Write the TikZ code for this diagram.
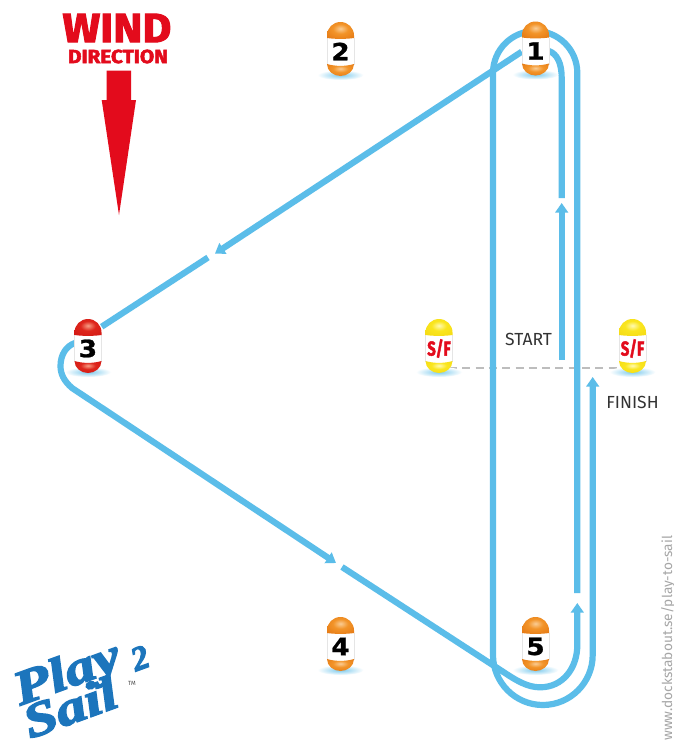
\documentclass[tikz,border=0pt]{standalone}
\usepackage{fontspec}
\usepackage{graphicx}
\usetikzlibrary{arrows.meta,backgrounds}
\setmainfont{Fira Sans}
\newfontfamily\heavy[BoldFeatures={FakeBold=2.4}]{Fira Sans}
\newfontfamily\numfont[BoldFeatures={FakeBold=1}]{DejaVu Sans}
\newfontfamily\logofont[BoldItalicFeatures={FakeBold=3}]{Liberation Serif}
\newcommand{\fs}[1]{\fontsize{#1}{#1}\selectfont}
\definecolor{course}{HTML}{5BBDE9}
\definecolor{windred}{HTML}{E30B1C}
\definecolor{logoblue}{HTML}{1C75BC}
\pgfdeclareradialshading{orangecap}{\pgfpoint{0bp}{6bp}}{rgb(0bp)=(.98,.80,.58); rgb(14bp)=(.95,.58,.16); rgb(34bp)=(.90,.48,.08); rgb(50bp)=(.76,.36,.05); rgb(100bp)=(.76,.36,.05)}
\pgfdeclareradialshading{redcap}{\pgfpoint{0bp}{6bp}}{rgb(0bp)=(.97,.62,.52); rgb(14bp)=(.87,.15,.11); rgb(34bp)=(.83,.10,.08); rgb(50bp)=(.66,.05,.06); rgb(100bp)=(.66,.05,.06)}
\pgfdeclareradialshading{yellowcap}{\pgfpoint{0bp}{6bp}}{rgb(0bp)=(1,.98,.70); rgb(14bp)=(.98,.90,.12); rgb(34bp)=(.96,.86,.08); rgb(50bp)=(.84,.70,.02); rgb(100bp)=(.84,.70,.02)}
\tikzset{
  coursearrow/.style={draw=course,line width=6.2pt},
  courseline/.style={coursearrow,-{Triangle[length=9.5pt,width=12.5pt]}},
  startline/.style={draw=black!26,line width=2pt,dash pattern=on 8pt off 5.3pt},
  label/.style={inner sep=0pt,text=black!80,font=\fs{17.5}},
  digit/.style={inner sep=0pt,text=black},
}
% #1 name, #2 x, #3 y, #4 shading, #5 label content
\newcommand{\buoy}[5]{%
  \begin{scope}[shift={(#2,#3)}]
    \shade[inner color=course!80,outer color=white] (0,26) ellipse [x radius=23,y radius=5];
    \fill[white] (-13.5,-13) rectangle (13.5,17);
    \draw[black!10,line width=.5pt] (-13.5,-11) -- (-13.5,16) (13.5,-11) -- (13.5,16);
    \shade[shading=#4] (-13.5,-11) -- (-13.5,-13.5) .. controls (-13.5,-21) and (-7.5,-27) .. (0,-27) .. controls (7.5,-27) and (13.5,-21) .. (13.5,-13.5) -- (13.5,-11) .. controls (5,-9.8) and (-5,-9.8) .. (-13.5,-11) -- cycle;
    \shade[shading=#4] (-13.5,15) .. controls (-5,17.5) and (5,17.5) .. (13.5,15) .. controls (13.5,22) and (7,27) .. (0,27) .. controls (-7,27) and (-13.5,22) .. (-13.5,15) -- cycle;
    \node[digit] (#1) at (0,2.5) {#5};
  \end{scope}}
\newcommand{\num}[1]{\numfont\bfseries\fs{25}\scalebox{1.05}[.95]{#1}}
\newcommand{\sfl}{\textcolor{windred}{\heavy\bfseries\fs{20}\scalebox{.74}[1]{S/F}}}
\begin{document}
\begin{tikzpicture}[x=1pt,y=-1pt]
\useasboundingbox (0,0) rectangle (674,742);
% wind arrow
\fill[windred] (106.7,70.7) -- (131,70.7) -- (131,100) -- (136,100) -- (119,215) -- (101.7,100) -- (106.7,100) -- cycle;
\node[inner sep=0pt,text=windred] (wind) at (117,28) {\heavy\bfseries\fs{41}\scalebox{1.08}[1]{WIND}};
\node[inner sep=0pt,text=windred] (direction) at (118,56.5) {\heavy\bfseries\fs{19}\scalebox{1.09}[1]{DIRECTION}};
% buoys
\buoy{bone}{535.5}{48.5}{orangecap}{\num{1}}
\buoy{btwo}{340.5}{49}{orangecap}{\num{2}}
\buoy{bthree}{88}{346}{redcap}{\num{3}}
\buoy{bfour}{340.5}{644}{orangecap}{\num{4}}
\buoy{bfive}{535.5}{644}{orangecap}{\num{5}}
\buoy{sfleft}{439}{346}{yellowcap}{\sfl}
\buoy{sfright}{632.5}{346}{yellowcap}{\sfl}
% labels
\node[label] (start) at (528.5,339.5) {START};
\node[label] (finish) at (632.5,402) {FINISH};
\node[inner sep=0pt,text=black!35,rotate=90,anchor=west,font=\fs{13.7}] (url) at (668,741) {www.dockstabout.se/play-to-sail};
% logo
\node[inner sep=0pt,text=logoblue,rotate=20] (play) at (68,676) {\logofont\bfseries\itshape\fs{48}\scalebox{1.25}[1]{Play}};
\node[inner sep=0pt,text=logoblue,rotate=20] (sail) at (70,707) {\logofont\bfseries\itshape\fs{48}\scalebox{1.25}[1]{Sail}};
\node[inner sep=0pt,text=logoblue,rotate=20] (two) at (140,658) {\logofont\bfseries\itshape\fs{34}2};
\node[inner sep=0pt,text=black!70] (tm) at (132,683) {\fs{6}TM};
% course
\coordinate (startfoot) at (561.7,360);
\coordinate (startgap) at (561.7,203);
\coordinate (gapone) at (561.7,198);
\coordinate (oneright) at (549,51);
\coordinate (oneleft) at (521.7,51.7);
\coordinate (gapthreeA) at (215,253.6);
\coordinate (gapthreeB) at (208,257.5);
\coordinate (threeup) at (101.7,326.7);
\coordinate (threeleft) at (75,343);
\coordinate (threelow) at (72,388);
\coordinate (gapfourA) at (336,563);
\coordinate (gapfourB) at (342,567);
\coordinate (fiveline) at (505,673);
\coordinate (fivearrow) at (577.3,603);
\coordinate (fivegap) at (577.3,593);
\coordinate (finishtip) at (592.7,377);
\coordinate (dashl) at (449,368);
\coordinate (dashr) at (620,368);
\begin{scope}[on background layer]
  \fill[white] (0,0) rectangle (674,742);
  \draw[startline] (dashl) -- (dashr);
  \draw[courseline] (startfoot) -- (startgap);
  \draw[coursearrow] (gapone) -- (561.7,78) .. controls (561.7,63) and (557,54) .. (oneright);
  \draw[courseline] (oneleft) -- (gapthreeA);
  \draw[coursearrow] (gapthreeB) -- (threeup);
  \draw[courseline] (threeleft) .. controls (66,346) and (60.5,355) .. (60.5,366) .. controls (60.5,374) and (64,381) .. (threelow) -- (gapfourA);
  \draw[courseline] (gapfourB) -- (fiveline) .. controls (517,681) and (528,687.3) .. (540,687.3) .. controls (563,687.3) and (577.3,668) .. (577.3,645) -- (fivearrow);
  \draw[courseline] (fivegap) -- (577.3,73) .. controls (577.3,49.7) and (558.5,31) .. (535.2,31) .. controls (511.9,31) and (493,49.7) .. (493,73) -- (493,655) .. controls (493,682.5) and (515.3,705) .. (542.85,705) .. controls (570.4,705) and (592.7,682.5) .. (592.7,655) -- (finishtip);
\end{scope}
\end{tikzpicture}
\end{document}
